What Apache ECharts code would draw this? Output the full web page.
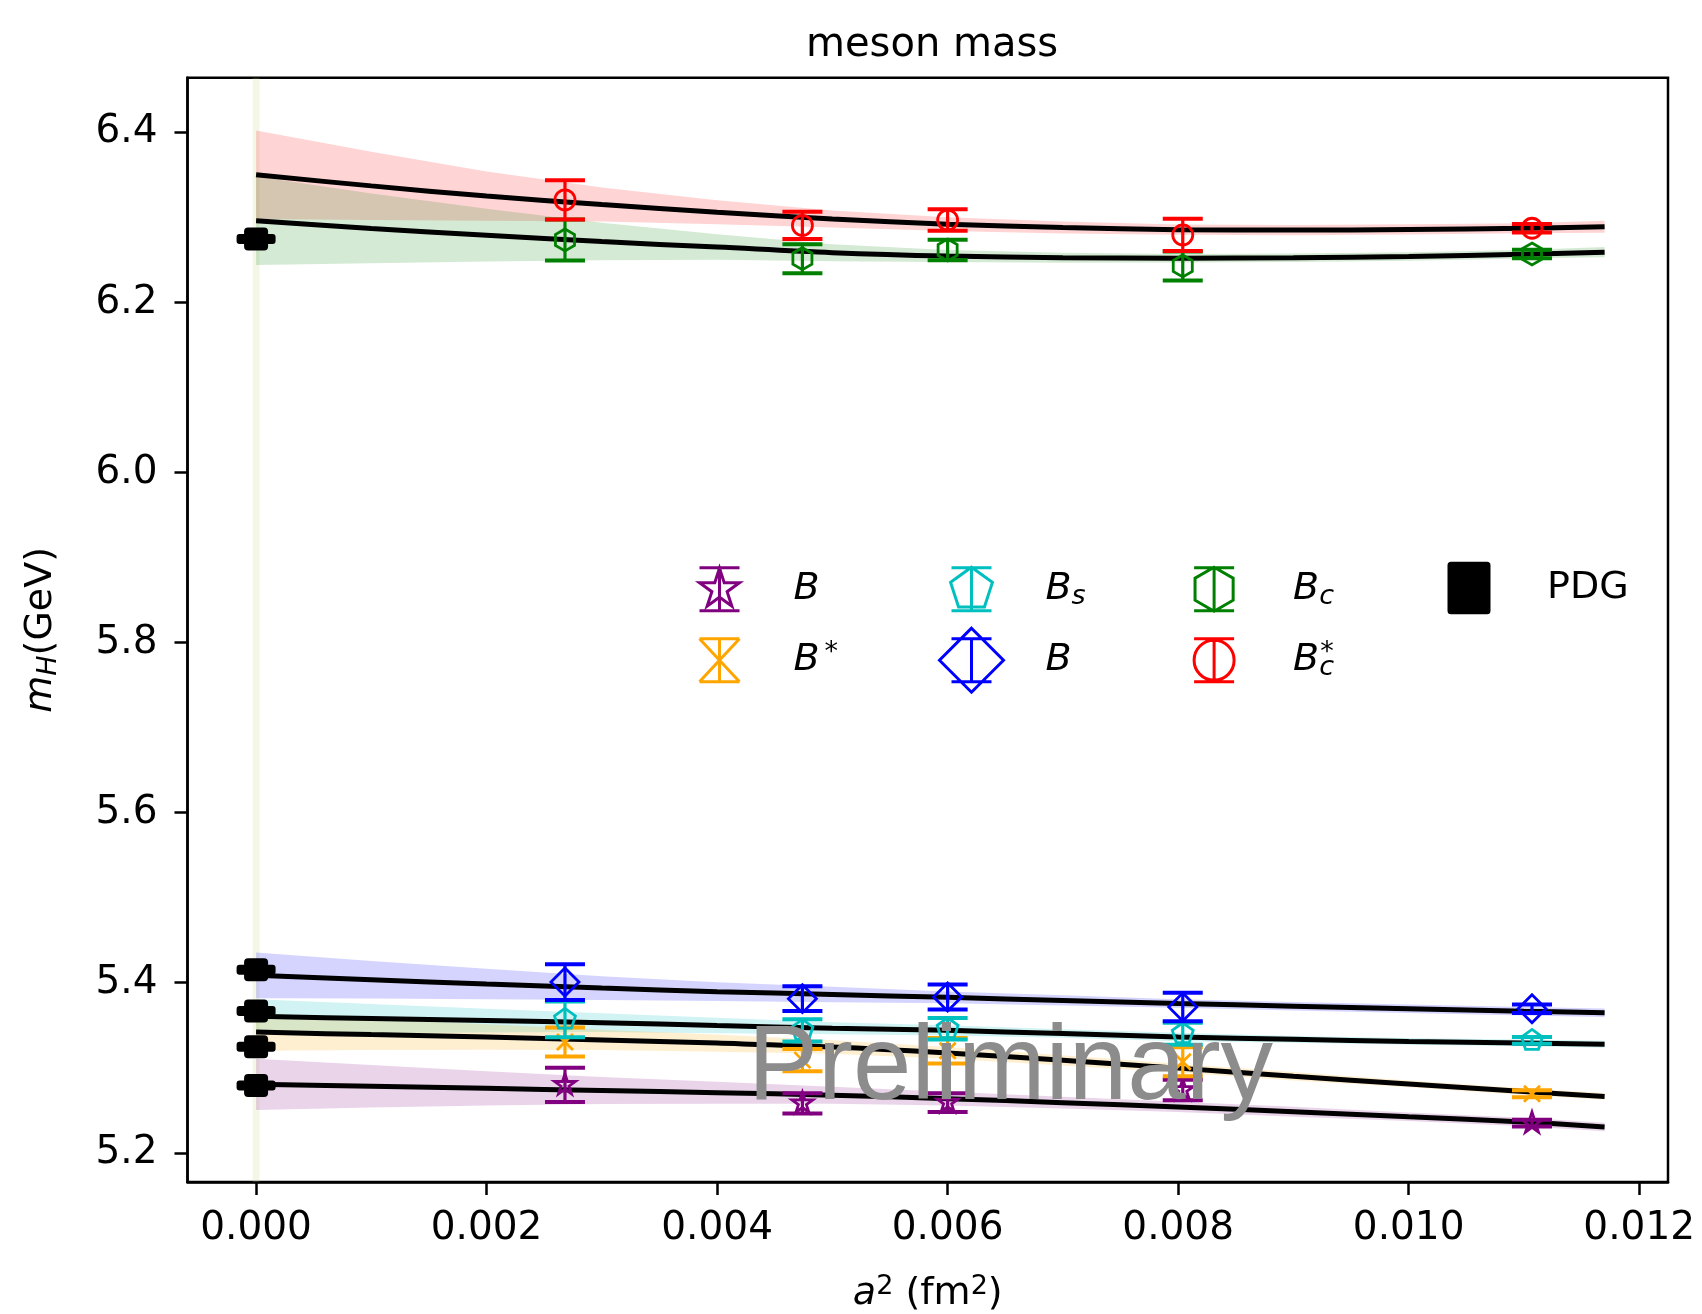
<!DOCTYPE html>
<html><head><meta charset="utf-8">
<script src="https://cdn.jsdelivr.net/npm/echarts@6/dist/echarts.min.js"></script>
<style>html,body{margin:0;padding:0;background:#fff}#c{width:1702px;height:1314px}</style>
</head><body><div id="c"></div>
<script>
// ---------------- data ----------------
const a2 = [0.00268, 0.00474, 0.00600, 0.00804, 0.01107];

const B_m     = [5.2799, 5.2582, 5.2591, 5.2738, 5.2349];
const B_e     = [0.020, 0.012, 0.011, 0.012, 0.004];
const Bst_m   = [5.3303, 5.3090, 5.3200, 5.3070, 5.2695];
const Bst_e   = [0.017, 0.013, 0.015, 0.017, 0.004];
const Bs_m    = [5.3570, 5.3440, 5.3459, 5.3400, 5.3322];
const Bs_e    = [0.021, 0.013, 0.0125, 0.013, 0.004];
const Bss_m   = [5.4008, 5.3813, 5.3832, 5.3714, 5.3695];
const Bss_e   = [0.021, 0.0145, 0.0147, 0.0167, 0.005];
const Bc_m    = [6.2734, 6.2514, 6.2616, 6.2428, 6.2569];
const Bc_e    = [0.024, 0.017, 0.012, 0.017, 0.005];
const Bcs_m   = [6.3205, 6.2905, 6.2969, 6.2793, 6.2872];
const Bcs_e   = [0.023, 0.016, 0.0126, 0.019, 0.005];

const pdgX = [0, 0, 0, 0, 0];
const pdgM = [6.2745, 5.4154, 5.3669, 5.3247, 5.2793];

// continuum fits: central values and band half widths at these a^2
const fitX     = [0, 0.001, 0.002, 0.003, 0.004, 0.005, 0.006, 0.007, 0.008, 0.009, 0.010, 0.011, 0.0117];
const fit_Bcs  = [6.350, 6.337, 6.325, 6.315, 6.306, 6.298, 6.292, 6.288, 6.2855, 6.285, 6.2858, 6.2872, 6.289];
const half_Bcs = [0.052, 0.040, 0.029, 0.020, 0.014, 0.010, 0.008, 0.007, 0.006, 0.006, 0.006, 0.006, 0.007];
const fit_Bc   = [6.296, 6.287, 6.279, 6.2715, 6.265, 6.2585, 6.2545, 6.2525, 6.252, 6.2525, 6.254, 6.2565, 6.259];
const half_Bc  = [0.052, 0.041, 0.031, 0.022, 0.015, 0.010, 0.007, 0.006, 0.005, 0.005, 0.005, 0.005, 0.006];
const fit_Bss  = [5.4087, 5.4035, 5.3985, 5.3937, 5.3895, 5.3862, 5.3828, 5.3792, 5.3756, 5.3725, 5.3695, 5.3666, 5.3648];
const half_Bss = [0.027, 0.022, 0.018, 0.014, 0.011, 0.009, 0.007, 0.006, 0.005, 0.005, 0.005, 0.005, 0.005];
const fit_Bs   = [5.3605, 5.358, 5.3555, 5.353, 5.3497, 5.3465, 5.344, 5.3402, 5.3362, 5.3335, 5.331, 5.3292, 5.3277];
const half_Bs  = [0.020, 0.017, 0.014, 0.011, 0.009, 0.007, 0.006, 0.005, 0.005, 0.004, 0.004, 0.004, 0.004];
const fit_Bst  = [5.342, 5.339, 5.3362, 5.3328, 5.329, 5.3245, 5.3175, 5.3088, 5.2996, 5.290, 5.281, 5.272, 5.2663];
const half_Bst = [0.022, 0.018, 0.015, 0.012, 0.010, 0.008, 0.007, 0.006, 0.005, 0.005, 0.004, 0.004, 0.004];
const fit_B    = [5.2805, 5.2782, 5.2758, 5.2733, 5.2707, 5.2678, 5.2637, 5.259, 5.254, 5.2483, 5.2423, 5.2362, 5.2305];
const half_B   = [0.030, 0.025, 0.020, 0.016, 0.013, 0.010, 0.008, 0.007, 0.006, 0.006, 0.005, 0.005, 0.005];

const xTicks = [0, 0.002, 0.004, 0.006, 0.008, 0.010, 0.012];
const yTicks = [5.2, 5.4, 5.6, 5.8, 6.0, 6.2, 6.4];
const X_MIN = -0.000595, X_MAX = 0.01225, Y_MIN = 5.1657, Y_MAX = 6.4642;

// ---------------- styling ----------------
const FONT = 'DejaVu Sans';
const COL = {B:'#800080', Bst:'#ffa500', Bs:'#00bfbf', Bss:'#0000ff', Bc:'#008000', Bcs:'#ff0000'};

function regPts(cx, cy, r, n) {
  const p = [];
  for (let i = 0; i < n; i++) { const a = -Math.PI / 2 + 2 * Math.PI * i / n; p.push([cx + r * Math.cos(a), cy + r * Math.sin(a)]); }
  return p;
}
function starPts(cx, cy, R, r) {
  const p = [];
  for (let i = 0; i < 10; i++) { const a = -Math.PI / 2 + Math.PI * i / 5; const rr = i % 2 ? r : R; p.push([cx + rr * Math.cos(a), cy + rr * Math.sin(a)]); }
  return p;
}
function markerPts(type, cx, cy, s) {
  if (type === 'star') return starPts(cx, cy, s, s * 0.382);
  if (type === 'pent') return regPts(cx, cy, s, 5);
  if (type === 'hex') return regPts(cx, cy, s, 6);
  if (type === 'diamond') return regPts(cx, cy, s, 4);
  return null;
}
const MSIZE = {star: 11, pent: 11, hex: 11, diamond: 14, circle: 10, x: 8};

function markerEl(type, cx, cy, color) {
  const st = {stroke: color, fill: 'none', lineWidth: 2.8};
  const s = MSIZE[type];
  if (type === 'circle') return {type: 'circle', shape: {cx, cy, r: s}, style: st};
  if (type === 'x') return {type: 'group', children: [
    {type: 'line', shape: {x1: cx - s, y1: cy - s, x2: cx + s, y2: cy + s}, style: st},
    {type: 'line', shape: {x1: cx + s, y1: cy - s, x2: cx - s, y2: cy + s}, style: st}]};
  return {type: 'polygon', shape: {points: markerPts(type, cx, cy, s)}, style: st};
}

function errSeries(name, ys, es, color, marker) {
  return {
    type: 'custom', name, z: 5,
    itemStyle: {color},
    data: a2.map((x, i) => [x, ys[i], ys[i] - es[i], ys[i] + es[i]]),
    encode: {x: 0, y: [1, 2, 3]},
    renderItem(params, api) {
      const c = api.coord([api.value(0), api.value(1)]);
      const lo = api.coord([api.value(0), api.value(2)]);
      const hi = api.coord([api.value(0), api.value(3)]);
      const ls = {stroke: color, lineWidth: 3.2};
      const cs = {stroke: color, lineWidth: 4};
      return {type: 'group', children: [
        {type: 'line', shape: {x1: c[0], y1: hi[1], x2: c[0], y2: lo[1]}, style: ls},
        {type: 'line', shape: {x1: c[0] - 20, y1: hi[1], x2: c[0] + 20, y2: hi[1]}, style: cs},
        {type: 'line', shape: {x1: c[0] - 20, y1: lo[1], x2: c[0] + 20, y2: lo[1]}, style: cs},
        markerEl(marker, c[0], c[1], color)
      ]};
    }
  };
}

function bandSeries(fit, half, color) {
  return {
    type: 'custom', z: 1, silent: true,
    data: [0],
    renderItem(params, api) {
      const up = fitX.map((x, i) => api.coord([x, fit[i] + half[i]]));
      const dn = fitX.map((x, i) => api.coord([x, fit[i] - half[i]])).reverse();
      return {type: 'polygon', shape: {points: up.concat(dn)}, style: {fill: color, stroke: null}};
    }
  };
}

function fitLine(fit) {
  return {
    type: 'line', z: 3, silent: true, smooth: 0.35, symbol: 'none',
    data: fitX.map((x, i) => [x, fit[i]]),
    lineStyle: {color: '#000', width: 5}
  };
}

// legend icons (64 x 66 box, centre 32,33)
function iconPath(type) {
  let p = 'M0 0 M64 66 ';
  if (type === 'pdg') return 'path://' + p + 'M14 8 L50 8 Q52.5 8 52.5 10.5 L52.5 56 Q52.5 58.5 50 58.5 L14 58.5 Q11.5 58.5 11.5 56 L11.5 10.5 Q11.5 8 14 8 Z';
  const y1 = 11.5, y2 = 54.5;
  p += `M12 ${y1} L52 ${y1} M12 ${y2} L52 ${y2} M32 ${y1} L32 ${y2} `;
  if (type === 'x') p += `M12 ${y1} L52 ${y2} M52 ${y1} L12 ${y2}`;
  else if (type === 'circle') p += 'M52 33 A20 20 0 1 1 12 33 A20 20 0 1 1 52 33 Z';
  else {
    const s = {star: 21, pent: 22, hex: 22, diamond: 32}[type];
    const pts = markerPts(type, 32, 33, s);
    p += 'M' + pts.map(q => q[0].toFixed(2) + ' ' + q[1].toFixed(2)).join(' L') + ' Z';
  }
  return 'path://' + p;
}

const LABELS = {
  Bu: '{i|B}', Bst: '{i|B}{sp|}{sup|*}', Bs: '{i|B}{sub|s}', Bss: '{i|B}',
  Bc: '{i|B}{sub|c}', Bcs: '{i|B}{sub0|c}{sup|*}', PDG: '{n|PDG}'
};
function legendRich(gap) {
  return {
    g: {width: gap},
    sp: {width: 5},
    i: {fontFamily: FONT, fontStyle: 'italic', fontSize: 38, lineHeight: 46, color: '#000'},
    n: {fontFamily: FONT, fontSize: 38, lineHeight: 46, color: '#000'},
    sub: {fontFamily: FONT, fontStyle: 'italic', fontSize: 27, lineHeight: 27, padding: [15, 0, 0, 0], color: '#000'},
    sub0: {fontFamily: FONT, fontStyle: 'italic', fontSize: 27, lineHeight: 27, width: 1, padding: [15, 0, 0, 0], color: '#000'},
    sup: {fontFamily: FONT, fontSize: 27, lineHeight: 27, padding: [0, 0, 15, 0], color: '#000'}
  };
}
function legendItem(name, type, color, filled) {
  return {name, icon: iconPath(type),
    itemStyle: filled ? {color: '#000', borderColor: '#000', borderWidth: 2}
                      : {color: 'none', borderColor: color, borderWidth: 3}};
}
function makeLegend(left, gap, items) {
  return {
    orient: 'vertical', left, top: 553.7, itemWidth: 64, itemHeight: 66, itemGap: 0,
    padding: 0, selectedMode: false, data: items,
    formatter: name => '{g|}' + LABELS[name],
    textStyle: {rich: legendRich(gap)}
  };
}

const series = [
  {type: 'line', silent: true, z: 0, symbol: 'none', data: [[0, Y_MIN], [0, Y_MAX]],
   lineStyle: {color: 'rgba(200,210,140,0.2)', width: 7}},
  bandSeries(fit_Bcs, half_Bcs, 'rgba(255,0,0,0.17)'),
  bandSeries(fit_Bc, half_Bc, 'rgba(0,128,0,0.17)'),
  bandSeries(fit_Bss, half_Bss, 'rgba(0,0,255,0.17)'),
  bandSeries(fit_Bs, half_Bs, 'rgba(0,191,191,0.18)'),
  bandSeries(fit_Bst, half_Bst, 'rgba(255,165,0,0.18)'),
  bandSeries(fit_B, half_B, 'rgba(128,0,128,0.17)'),
  fitLine(fit_Bcs), fitLine(fit_Bc), fitLine(fit_Bss), fitLine(fit_Bs), fitLine(fit_Bst), fitLine(fit_B),
  errSeries('Bu', B_m, B_e, COL.B, 'star'),
  errSeries('Bst', Bst_m, Bst_e, COL.Bst, 'x'),
  errSeries('Bs', Bs_m, Bs_e, COL.Bs, 'pent'),
  errSeries('Bss', Bss_m, Bss_e, COL.Bss, 'diamond'),
  errSeries('Bc', Bc_m, Bc_e, COL.Bc, 'hex'),
  errSeries('Bcs', Bcs_m, Bcs_e, COL.Bcs, 'circle'),
  {
    type: 'custom', name: 'PDG', z: 6, itemStyle: {color: '#000'},
    data: pdgX.map((x, i) => [x, pdgM[i]]),
    encode: {x: 0, y: 1},
    renderItem(params, api) {
      const c = api.coord([api.value(0), api.value(1)]);
      return {type: 'group', children: [
        {type: 'rect', shape: {x: c[0] - 19.5, y: c[1] - 5, width: 39, height: 10, r: 3}, style: {fill: '#000'}},
        {type: 'rect', shape: {x: c[0] - 12, y: c[1] - 11.5, width: 24, height: 23, r: 4}, style: {fill: '#000'}}
      ]};
    }
  }
];

const axisCommon = {
  type: 'value',
  axisLine: {show: true, onZero: false, lineStyle: {color: '#000', width: 2.5}},
  axisTick: {show: true, inside: false, length: 13, lineStyle: {color: '#000', width: 2.5}},
  splitLine: {show: false},
  nameMoveOverlap: false
};

const option = {
  animation: false,
  backgroundColor: '#fff',
  title: {text: 'meson mass', left: 801, top: 21,
          textStyle: {fontFamily: FONT, fontSize: 40, fontWeight: 'normal', color: '#000'}},
  grid: {left: 187.5, right: 34, top: 77.7, bottom: 132, containLabel: false, outerBoundsMode: 'none',
         show: true, borderColor: '#000', borderWidth: 2.5, backgroundColor: 'transparent'},
  xAxis: Object.assign({}, axisCommon, {
    min: X_MIN, max: X_MAX, splitNumber: 6,
    axisTick: Object.assign({}, axisCommon.axisTick, {customValues: xTicks}),
    axisLabel: {customValues: xTicks, margin: 27, fontFamily: FONT, fontSize: 39, color: '#000',
                formatter: v => v.toFixed(3)},
    name: '{i|a}{sup|2}{n| (fm}{sup|2}{n|)}', nameLocation: 'middle', nameGap: 90,
    nameTextStyle: {rich: {
      i: {fontFamily: FONT, fontStyle: 'italic', fontSize: 38, lineHeight: 44, color: '#000'},
      n: {fontFamily: FONT, fontSize: 38, lineHeight: 44, color: '#000'},
      sup: {fontFamily: FONT, fontSize: 27, lineHeight: 27, padding: [0, 0, 15, 0], color: '#000'}}}
  }),
  yAxis: Object.assign({}, axisCommon, {
    min: Y_MIN, max: Y_MAX, splitNumber: 6,
    axisTick: Object.assign({}, axisCommon.axisTick, {customValues: yTicks}),
    axisLabel: {customValues: yTicks, margin: 30, fontFamily: FONT, fontSize: 39, color: '#000',
                formatter: v => v.toFixed(1)},
    name: '{i|m}{sub|H}{n|(GeV)}', nameLocation: 'middle', nameGap: 124, nameRotate: 90,
    nameTextStyle: {rich: {
      i: {fontFamily: FONT, fontStyle: 'italic', fontSize: 38, lineHeight: 44, color: '#000'},
      n: {fontFamily: FONT, fontSize: 38, lineHeight: 44, color: '#000'},
      sub: {fontFamily: FONT, fontStyle: 'italic', fontSize: 27, lineHeight: 27, padding: [14, 0, 0, 0], color: '#000'}}}
  }),
  legend: [
    makeLegend(685, 37, [legendItem('Bu', 'star', COL.B), legendItem('Bst', 'x', COL.Bst)]),
    makeLegend(937, 37, [legendItem('Bs', 'pent', COL.Bs), legendItem('Bss', 'diamond', COL.Bss)]),
    makeLegend(1179.6, 42, [legendItem('Bc', 'hex', COL.Bc), legendItem('Bcs', 'circle', COL.Bcs)]),
    makeLegend(1436, 41, [legendItem('PDG', 'pdg', '#000', true)])
  ],
  graphic: [{
    type: 'text', z: 100, left: 748, top: 1018,
    style: {text: 'Preliminary', fill: '#8c8c8c', font: '105px "Liberation Sans"'}
  }],
  series
};

const chart = echarts.init(document.getElementById('c'), null, {renderer: 'canvas'});
chart.setOption(option);
</script>
</body></html>
